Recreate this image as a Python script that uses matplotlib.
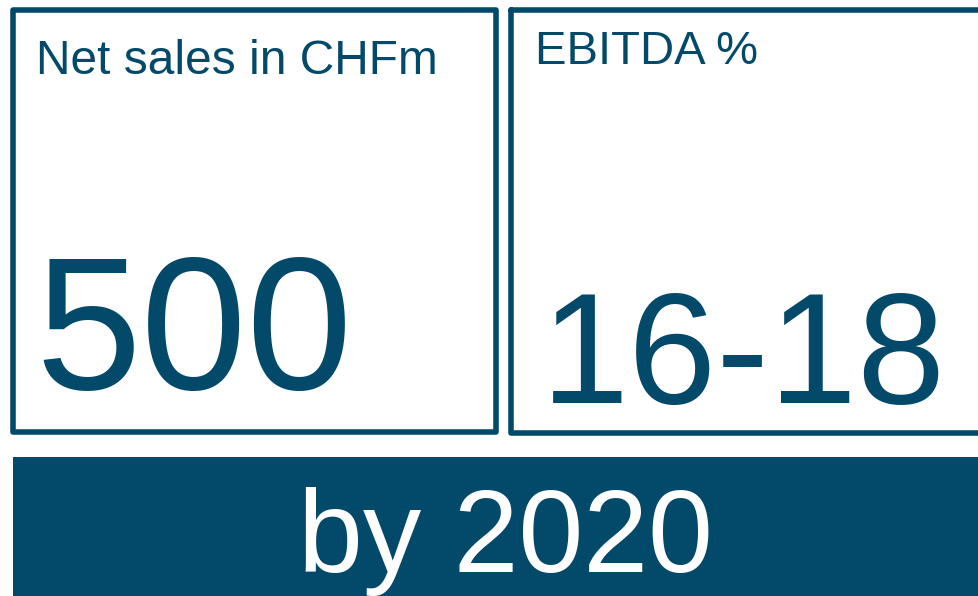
import matplotlib.pyplot as plt
import matplotlib.patches as patches

plt.rcParams["font.family"] = ["Liberation Sans", "DejaVu Sans"]

COLOR = "#03496a"

# Contenido de las tarjetas
titles = ["Net sales in CHFm", "EBITDA %"]
values = ["500", "16-18"]
footer = "by 2020"

W, H = 979, 596
fig = plt.figure(figsize=(W / 100, H / 100), dpi=100)
ax = fig.add_axes([0, 0, 1, 1])
ax.set_xlim(0, W)
ax.set_ylim(H, 0)
ax.axis("off")

# Cajas (coordenadas en píxeles)
boxes = [(13, 10, 483, 422), (511, 10, 490, 423)]
title_pos = [(36, 74, 34.5), (535, 64, 34)]
value_pos = [(35, 389, 137), (541, 403, 114)]

for (x, y, w, h), title, value, (tx, ty, ts), (vx, vy, vs) in zip(
    boxes, titles, values, title_pos, value_pos
):
    rect = patches.Rectangle(
        (x, y), w, h,
        linewidth=4,
        edgecolor=COLOR,
        facecolor="none",
        joinstyle="round",
        capstyle="round",
    )
    ax.add_patch(rect)
    ax.text(tx, ty, title, color=COLOR, fontsize=ts, ha="left", va="baseline")
    ax.text(vx, vy, value, color=COLOR, fontsize=vs, ha="left", va="baseline")

# Banda inferior
bar = patches.Rectangle((13, 457), 980, 150, facecolor=COLOR, edgecolor="none")
ax.add_patch(bar)
ax.text(505, 572, footer, color="white", fontsize=84, ha="center", va="baseline")

fig.savefig("out.png", dpi=100)
